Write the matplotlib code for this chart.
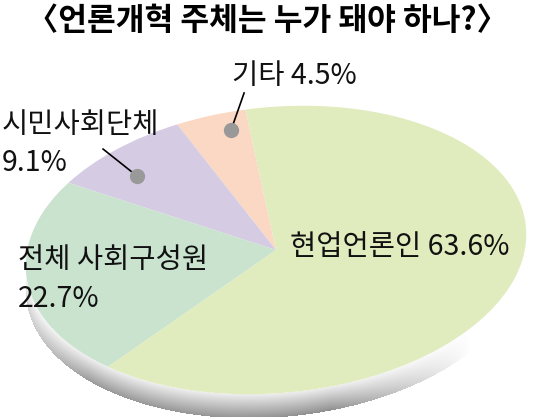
import numpy as np
import matplotlib
matplotlib.use("Agg")
import matplotlib.pyplot as plt
from matplotlib.transforms import Affine2D

plt.rcParams['font.family'] = ['Noto Sans CJK KR', 'DejaVu Sans']

title = "〈언론개혁 주체는 누가 돼야 하나?〉"
categories = ["기타", "시민사회단체", "전체 사회구성원", "현업언론인"]
values = [4.5, 9.1, 22.7, 63.6]
colors = ["#FAD8C3", "#D5CCE4", "#C9E3CF", "#E0EBBE"]

W, H = 534, 417
fig = plt.figure(figsize=(W / 100, H / 100), dpi=100)
ax = fig.add_axes([0, 0, 1, 1])

# ellipse geometry (image pixel coords, y down)
cx, cy, a, b, tilt = 276, 250, 251, 143, 5.3
depth = 24
T = Affine2D().scale(a, b).rotate_deg(tilt).scale(1, -1).translate(cx, cy)

wedges, _ = ax.pie(values, colors=colors, startangle=94, counterclock=True,
                   radius=1, center=(0, 0), wedgeprops=dict(linewidth=0))
for w in wedges:
    w.set_transform(T + ax.transData)
    w.set_zorder(2)

# side / shadow band with gradient
yy, xx = np.mgrid[0:H, 0:W] + 0.5
ux, uy = xx - cx, -(yy - cy)
tr = np.deg2rad(tilt)
upx = (ux * np.cos(tr) + uy * np.sin(tr)) / a
upy = (-ux * np.sin(tr) + uy * np.cos(tr)) / b
ex, ey = np.sin(tr) / a, np.cos(tr) / b
ee = ex * ex + ey * ey
ue = upx * ex + upy * ey
uu = upx ** 2 + upy ** 2
disc = ue ** 2 - ee * (uu - 1)
s = np.where(disc >= 0, (-ue - np.sqrt(np.clip(disc, 0, None))) / ee, np.inf)
band = (uu > 1) & (ue < 0) & (s >= 0) & (s <= depth)
t = np.clip(s / depth, 0, 1)
gray = 238 - 95 * t
wx = np.interp(xx, [20, 90, 330, 470, 534], [0.35, 0.9, 1.0, 0.0, 0.0])
val = 255 - (255 - gray) * wx
img = np.ones((H, W, 4))
img[..., 0] = img[..., 1] = img[..., 2] = val / 255
img[..., 3] = band.astype(float)
ax.imshow(img, extent=(0, W, H, 0), zorder=1, interpolation="bilinear")

ax.set_aspect("auto")
ax.set_xlim(0, W)
ax.set_ylim(H, 0)
ax.axis("off")

# label anchor dots for small slices
cum = np.cumsum([0] + values) / sum(values) * 360 + 94
mids = (cum[:-1] + cum[1:]) / 2
fs = 20.5
fw = "light"
txtc = "#111111"
dot_specs = {0: (0.875, -3.3, (13, -37)), 1: (0.80, 4.3, (-34, -27))}
for i, (r, off, (dx, dy)) in dot_specs.items():
    ang = np.deg2rad(mids[i] + off)
    px, py = T.transform((r * np.cos(ang), r * np.sin(ang)))
    ax.plot([px, px + dx], [py, py + dy], color="black", lw=1.2, zorder=3)
    ax.plot(px, py, "o", ms=11, color="#999999", mec="none", zorder=4)

kw = dict(fontsize=fs, fontweight=fw, color=txtc, ha="left", va="center", zorder=5)
ax.text(232, 76, f"{categories[0]} {values[0]}%", **kw)
ax.text(2, 125, categories[1], **kw)
ax.text(2, 163, f"{values[1]}%", **kw)
ax.text(18, 260, categories[2], **kw)
ax.text(18, 299, f"{values[2]}%", **kw)
ax.text(290, 247, f"{categories[3]} {values[3]}%", **kw)

ax.text(W / 2, 21, title, fontsize=22.5, fontweight="bold", color="black",
        ha="center", va="center", zorder=5)

fig.savefig("out.png", dpi=100, facecolor="white")
